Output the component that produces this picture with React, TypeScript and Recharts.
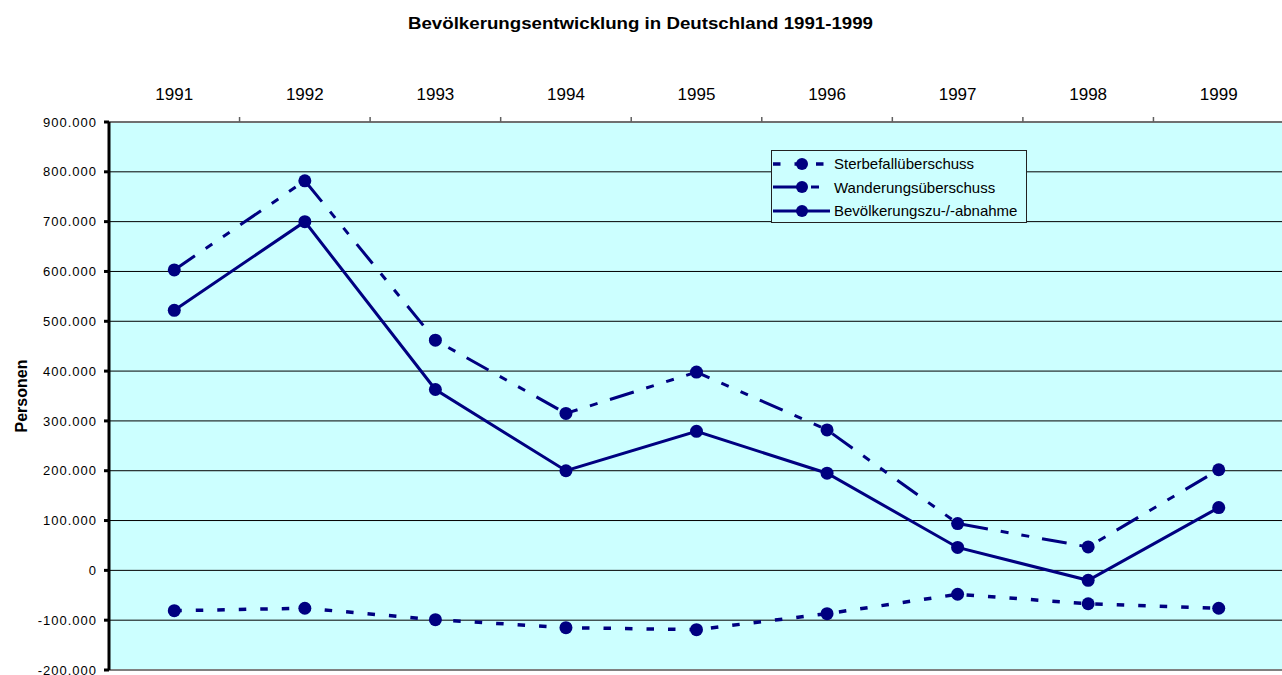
import { LineChart, Line, XAxis, YAxis, CartesianGrid, Legend, ReferenceLine } from "recharts";

const years = ["1991", "1992", "1993", "1994", "1995", "1996", "1997", "1998", "1999"];
const sterbefall = [-81000, -76000, -99000, -115000, -119000, -87000, -48000, -67000, -76000];
const wanderung = [603000, 782000, 462000, 315000, 398000, 282000, 94000, 47000, 202000];
const bevoelkerung = [522000, 700000, 363000, 200000, 279000, 195000, 46000, -20000, 126000];
const yTicks = [-200000, -100000, 0, 100000, 200000, 300000, 400000, 500000, 600000, 700000, 800000, 900000];

const NAVY = "#000080";
const FONT = "'Liberation Sans', Arial, sans-serif";

const seriesDefs = [
  { key: "sterbefall", name: "Sterbefallüberschuss", dash: "7.5 14", width: 3.5 },
  { key: "wanderung", name: "Wanderungsüberschuss", dash: "25 13 8 13 8 13", width: 3 },
  { key: "bevoelkerung", name: "Bevölkerungszu-/-abnahme", dash: undefined, width: 3 },
];

const data = years.map((year, i) => ({
  pos: i + 1,
  year,
  sterbefall: sterbefall[i],
  wanderung: wanderung[i],
  bevoelkerung: bevoelkerung[i],
}));

// year labels sit on whole positions, Excel-style tick marks between the categories
const xTicks: number[] = [];
years.forEach((_, i) => {
  xTicks.push(i + 1);
  if (i < years.length - 1) xTicks.push(i + 1.5);
});

const formatDE = (v: number) => {
  const s = String(Math.abs(v)).replace(/\B(?=(\d{3})+(?!\d))/g, ".");
  return v < 0 ? "-" + s : s;
};

const XTick = (props: any) => {
  const { x, y, payload } = props;
  const v = payload.value as number;
  if (Number.isInteger(v)) {
    return (
      <text x={x} y={y - 22} textAnchor="middle" fontSize={17} fontFamily={FONT} fill="#000">
        {years[v - 1]}
      </text>
    );
  }
  return <line x1={x} x2={x} y1={y} y2={y - 5} stroke="#606060" strokeWidth={1.5} />;
};

const YTick = (props: any) => {
  const { x, y, payload } = props;
  return (
    <text x={x} y={y} dy="0.355em" textAnchor="end" fontSize={13} letterSpacing={1} fontFamily={FONT} fill="#000">
      {formatDE(payload.value)}
    </text>
  );
};

const YLabel = (props: any) => {
  const { viewBox } = props;
  const cx = viewBox.x + 21;
  const cy = viewBox.y + viewBox.height / 2;
  return (
    <text x={cx} y={cy} transform={`rotate(-90 ${cx} ${cy})`} textAnchor="middle" dominantBaseline="central" fontSize={16} fontWeight="bold" fontFamily={FONT} fill="#000">
      Personen
    </text>
  );
};

const LegendBox = () => (
  <div style={{ width: 256, height: 73, boxSizing: "border-box", border: "1px solid #222", background: "#CCFFFF", fontFamily: FONT, fontSize: 15, color: "#000", paddingTop: 1 }}>
    {seriesDefs.map((s) => (
      <div key={s.key} style={{ display: "flex", alignItems: "center", height: 23.5 }}>
        <svg width={62} height={20}>
          <line x1={1} x2={58} y1={10} y2={10} stroke={NAVY} strokeWidth={s.width} strokeDasharray={s.dash} />
          <circle cx={30} cy={10} r={6} fill={NAVY} />
        </svg>
        <span style={{ whiteSpace: "nowrap" }}>{s.name}</span>
      </div>
    ))}
  </div>
);

export default function App() {
  return (
    <div style={{ position: "absolute", left: 0, top: 0, width: 1282, height: 675, overflow: "hidden", background: "#fff" }}>
      <svg width={1282} height={40} style={{ position: "absolute", left: 0, top: 0 }}>
        <text x={408} y={29} textLength={465} lengthAdjust="spacingAndGlyphs" fontSize={16} fontWeight="bold" fontFamily={FONT} fill="#000">
          Bevölkerungsentwicklung in Deutschland 1991-1999
        </text>
      </svg>
      <LineChart width={1290} height={680} data={data} margin={{ top: 82, right: 6, bottom: 10, left: 0 }}>
        <CartesianGrid vertical={false} fill="#CCFFFF" stroke="#000" strokeWidth={1} />
        <XAxis
          dataKey="pos"
          type="number"
          orientation="top"
          domain={[0.5, 9.5]}
          ticks={xTicks}
          interval={0}
          height={40}
          tick={<XTick />}
          tickLine={false}
          tickSize={0}
          tickMargin={0}
          axisLine={{ stroke: "#707070", strokeWidth: 2 }}
        />
        <YAxis
          type="number"
          domain={[-200000, 900000]}
          ticks={yTicks}
          interval={0}
          width={109}
          tick={<YTick />}
          tickSize={5}
          tickMargin={7}
          tickLine={{ stroke: "#000", strokeWidth: 3 }}
          axisLine={{ stroke: "#000", strokeWidth: 3 }}
          label={<YLabel />}
        />
        <ReferenceLine y={-200000} stroke="#808080" strokeWidth={2} />
        {seriesDefs.map((s) => (
          <Line
            key={s.key}
            type="linear"
            dataKey={s.key}
            name={s.name}
            stroke={NAVY}
            strokeWidth={s.width}
            strokeDasharray={s.dash}
            dot={{ r: 6.5, fill: NAVY, stroke: NAVY, strokeWidth: 0 }}
            activeDot={false}
            isAnimationActive={false}
          />
        ))}
        <Legend
          layout="vertical"
          align="center"
          verticalAlign="middle"
          wrapperStyle={{ left: 771, top: 150, width: 256, height: 73 }}
          content={<LegendBox />}
        />
      </LineChart>
    </div>
  );
}
